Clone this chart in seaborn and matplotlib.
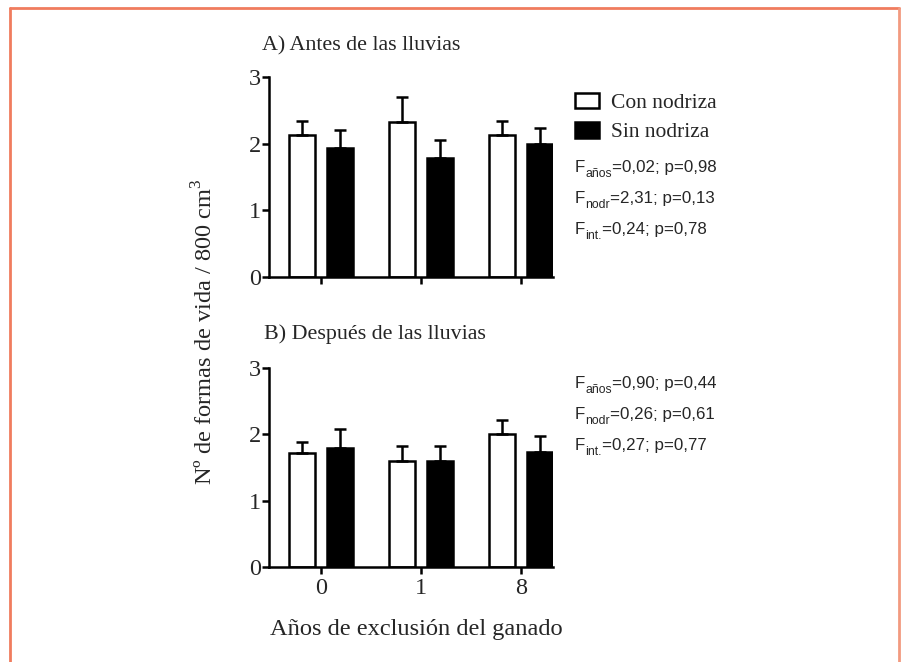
import matplotlib
matplotlib.use("Agg")
import matplotlib.pyplot as plt
import pandas as pd
import seaborn as sns
from matplotlib.transforms import offset_copy

# Years of livestock exclusion and nurse-plant treatment
years = ["0", "1", "8"]
groups = ["Con nodriza", "Sin nodriza"]

# A) before the rains: means and standard errors
antes_con = [2.13, 2.33, 2.13]
antes_sin = [1.93, 1.78, 2.00]
antes_con_se = [0.21, 0.37, 0.21]
antes_sin_se = [0.28, 0.28, 0.24]

# B) after the rains: means and standard errors
despues_con = [1.72, 1.60, 2.00]
despues_sin = [1.80, 1.60, 1.73]
despues_con_se = [0.16, 0.22, 0.22]
despues_sin_se = [0.28, 0.22, 0.24]

# Two-way ANOVA results (factor, F, p)
stats_antes = [("años", "0,02", "0,98"), ("nodr", "2,31", "0,13"), ("int.", "0,24", "0,78")]
stats_despues = [("años", "0,90", "0,44"), ("nodr", "0,26", "0,61"), ("int.", "0,27", "0,77")]

sns.set_style("ticks")
plt.rcParams["font.family"] = ["Liberation Serif", "DejaVu Serif"]
plt.rcParams["mathtext.fontset"] = "custom"
plt.rcParams["mathtext.rm"] = "Liberation Serif"

W, H = 903, 662
fig = plt.figure(figsize=(W / 100, H / 100), dpi=100)
LW = 1.8


def px_axes(left, top, right, bottom):
    return fig.add_axes([left / W, 1 - bottom / H, (right - left) / W, (bottom - top) / H])


def panel(ax, con, sin, con_se, sin_se, show_labels):
    df = pd.DataFrame({
        "año": years * 2,
        "grupo": [groups[0]] * len(years) + [groups[1]] * len(years),
        "valor": con + sin,
    })
    sns.barplot(data=df, x="año", y="valor", hue="grupo", order=years, hue_order=groups,
                palette=["white", "black"], saturation=1, edgecolor="black", linewidth=LW,
                width=0.76, gap=0.3, errorbar=None, legend=False, ax=ax)
    for cont, se in zip(ax.containers, [con_se, sin_se]):
        for bar, e in zip(cont, se):
            x = bar.get_x() + bar.get_width() / 2
            h = bar.get_height()
            ax.errorbar(x, h, yerr=[[0], [e]], color="black", lw=LW,
                        capsize=4.3, capthick=LW, zorder=1)
    ax.set_ylim(0, 3)
    ax.set_xlim(-0.52, 2.32)
    ax.set_yticks([0, 1, 2, 3])
    ax.set_xlabel("")
    ax.set_ylabel("")
    for side in ("top", "right"):
        ax.spines[side].set_visible(False)
    for side in ("left", "bottom"):
        ax.spines[side].set_linewidth(LW)
        ax.spines[side].set_color("black")
    ax.tick_params(axis="y", length=5, width=LW, color="black", labelsize=17.5, pad=1)
    ax.tick_params(axis="x", length=5, width=LW, color="black", labelsize=17.5, pad=3)
    if not show_labels:
        ax.set_xticklabels([])
    ax.patch.set_alpha(0)


axA = px_axes(269, 77, 553, 277)
panel(axA, antes_con, antes_sin, antes_con_se, antes_sin_se, False)
axB = px_axes(269, 368, 553, 567)
panel(axB, despues_con, despues_sin, despues_con_se, despues_sin_se, True)

fig.text(262 / W, 1 - 46 / H, "A) Antes de las lluvias", fontsize=15.8, va="center", ha="left")
fig.text(264 / W, 1 - 334 / H, "B) Después de las lluvias", fontsize=15.8, va="center", ha="left")
fig.text(416 / W, 1 - 630 / H, "Años de exclusión del ganado", fontsize=17.6, va="center", ha="center")
fig.text(205 / W, 1 - 332 / H, "Nº de formas de vida / 800 cm$^3$",
         fontsize=17.6, rotation=90, va="center", ha="center")

# legend
handles = [axA.containers[0][0], axA.containers[1][0]]
fig.legend(handles, groups, loc="upper left", bbox_to_anchor=(566 / W, 1 - 84 / H),
           frameon=False, fontsize=15.5, handlelength=1.15, handleheight=0.75,
           handletextpad=0.55, labelspacing=0.42, borderaxespad=0)

renderer = fig.canvas.get_renderer()
SANS = ["Liberation Sans", "DejaVu Sans"]


def stat_line(x_px, y_px, fac, f, p, size=12.2):
    """F with a subscript factor name, followed by the F and p values."""
    t = fig.text(x_px / W, 1 - y_px / H, "F", fontsize=size, family=SANS, va="baseline", ha="left")
    ext = t.get_window_extent(renderer)
    tr = offset_copy(fig.transFigure, fig=fig, x=(ext.x1 - x_px) * 72 / 100, y=-3.5, units="points")
    s = fig.text(x_px / W, 1 - y_px / H, fac, fontsize=size * 0.72, family=SANS,
                 va="baseline", ha="left", transform=tr)
    ext2 = s.get_window_extent(renderer)
    tr2 = offset_copy(fig.transFigure, fig=fig, x=(ext2.x1 - x_px + 0.5) * 72 / 100, y=0, units="points")
    fig.text(x_px / W, 1 - y_px / H, f"={f}; p={p}", fontsize=size, family=SANS,
             va="baseline", ha="left", transform=tr2)


def stats_block(rows, y0):
    for i, (fac, f, p) in enumerate(rows):
        stat_line(575, y0 + i * 31, fac, f, p)


stats_block(stats_antes, 172)
stats_block(stats_despues, 388)

# frame around the figure (open at the bottom)
c = "#F07C5E"
fig.add_artist(plt.Line2D([10.5 / W, 10.5 / W], [0, 1 - 7.5 / H], transform=fig.transFigure, color=c, lw=2))
fig.add_artist(plt.Line2D([10.5 / W, 899.5 / W], [1 - 7.5 / H, 1 - 7.5 / H], transform=fig.transFigure, color=c, lw=2))
fig.add_artist(plt.Line2D([899.5 / W, 899.5 / W], [0, 1 - 7.5 / H], transform=fig.transFigure, color="#F29A80", lw=2))

fig.savefig("out.png", dpi=100)
